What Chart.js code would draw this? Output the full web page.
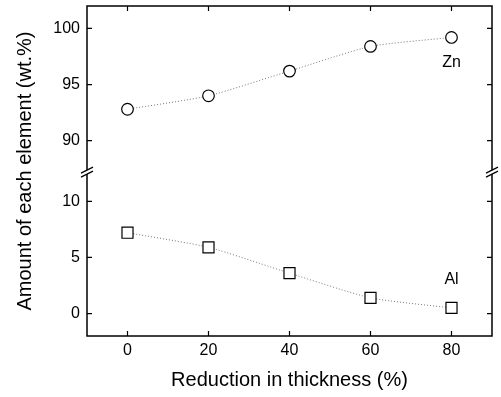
<!DOCTYPE html>
<html>
<head>
<meta charset="utf-8">
<script src="https://cdn.jsdelivr.net/npm/chart.js@4/dist/chart.umd.min.js"></script>
<style>
  html, body { margin: 0; padding: 0; background: #fff; }
  #wrap { width: 501px; height: 397px; }
</style>
</head>
<body>
<div id="wrap"><canvas id="chart"></canvas></div>
<script>
const reduction = [0, 20, 40, 60, 80];
const znValues = [92.8, 94.0, 96.2, 98.4, 99.2];
const alValues = [7.2, 5.9, 3.6, 1.4, 0.5];
const xTicks = [0, 20, 40, 60, 80];
const topTicks = [90, 95, 100];
const bottomTicks = [0, 5, 10];

const FONT = 'Liberation Sans, Arial, sans-serif';

const toPoints = (vals) => reduction.map((x, i) => ({ x: x, y: vals[i] }));

// frame, inward ticks, axis break marks, y title and element labels
const decor = {
    id: 'decor',
    afterDraw(chart) {
        const ctx = chart.ctx;
        const area = chart.chartArea;
        const xs = chart.scales.x;
        const yt = chart.scales.yTop;
        const yb = chart.scales.yBot;
        const len = 5;
        ctx.save();
        ctx.strokeStyle = '#000';
        ctx.lineWidth = 1.5;
        ctx.strokeRect(area.left, area.top, area.right - area.left, area.bottom - area.top);

        ctx.lineWidth = 1.2;
        ctx.beginPath();
        for (const v of xTicks) {
            const px = xs.getPixelForValue(v);
            ctx.moveTo(px, area.bottom); ctx.lineTo(px, area.bottom - len);
            ctx.moveTo(px, area.top); ctx.lineTo(px, area.top + len);
        }
        for (const v of topTicks) {
            const py = yt.getPixelForValue(v);
            ctx.moveTo(area.left, py); ctx.lineTo(area.left + len, py);
            ctx.moveTo(area.right, py); ctx.lineTo(area.right - len, py);
        }
        for (const v of bottomTicks) {
            const py = yb.getPixelForValue(v);
            ctx.moveTo(area.left, py); ctx.lineTo(area.left + len, py);
            ctx.moveTo(area.right, py); ctx.lineTo(area.right - len, py);
        }
        ctx.stroke();

        // axis break
        const by = yt.bottom;
        for (const bx of [area.left, area.right]) {
            ctx.fillStyle = '#fff';
            ctx.fillRect(bx - 3, by - 2, 6, 4);
            ctx.beginPath();
            ctx.moveTo(bx - 6, by + 1); ctx.lineTo(bx + 6, by - 5);
            ctx.moveTo(bx - 6, by + 5); ctx.lineTo(bx + 6, by - 1);
            ctx.stroke();
        }

        ctx.fillStyle = '#000';
        ctx.font = '16px ' + FONT;
        ctx.textAlign = 'center';
        ctx.textBaseline = 'middle';
        ctx.fillText('Zn', xs.getPixelForValue(80), yt.getPixelForValue(97.0));
        ctx.fillText('Al', xs.getPixelForValue(80), yb.getPixelForValue(3.0));

        ctx.font = '20px ' + FONT;
        ctx.translate(25, (area.top + area.bottom) / 2);
        ctx.rotate(-Math.PI / 2);
        ctx.fillText('Amount of each element (wt.%)', 0, 0);
        ctx.restore();
    }
};

const yCommon = {
    type: 'linear',
    position: 'left',
    stack: 'amount',
    grid: { display: false, drawTicks: false },
    border: { display: false },
    ticks: { color: '#000', font: { family: FONT, size: 16 }, padding: 7 },
    afterFit(scale) {
        scale.width = 87;
        scale.paddingTop = 0;
        scale.paddingBottom = 0;
    }
};

new Chart(document.getElementById('chart'), {
    type: 'line',
    data: {
        datasets: [
            {
                label: 'Zn',
                data: toPoints(znValues),
                yAxisID: 'yTop',
                borderColor: '#777',
                borderWidth: 1,
                borderDash: [1, 2],
                tension: 0.2,
                pointStyle: 'circle',
                pointRadius: 5.8,
                pointBackgroundColor: '#fff',
                pointBorderColor: '#000',
                pointBorderWidth: 1.2
            },
            {
                label: 'Al',
                data: toPoints(alValues),
                yAxisID: 'yBot',
                borderColor: '#777',
                borderWidth: 1,
                borderDash: [1, 2],
                tension: 0.2,
                pointStyle: 'rect',
                pointRadius: 7.8,
                pointBackgroundColor: '#fff',
                pointBorderColor: '#000',
                pointBorderWidth: 1.2
            }
        ]
    },
    options: {
        responsive: true,
        maintainAspectRatio: false,
        animation: false,
        layout: { autoPadding: false, padding: { top: 6, right: 9, left: 0, bottom: 0 } },
        plugins: { legend: { display: false }, tooltip: { enabled: false } },
        scales: {
            x: {
                type: 'linear',
                min: -10,
                max: 90,
                grid: { display: false, drawTicks: false },
                border: { display: false },
                afterBuildTicks(scale) { scale.ticks = xTicks.map(v => ({ value: v })); },
                ticks: { color: '#000', font: { family: FONT, size: 16 }, padding: 5 },
                title: {
                    display: true,
                    text: 'Reduction in thickness (%)',
                    color: '#000',
                    font: { family: FONT, size: 20 },
                    padding: 5
                },
                afterFit(scale) {
                    scale.height = 61;
                    scale.paddingLeft = 0;
                    scale.paddingRight = 0;
                }
            },
            yBot: Object.assign({}, yCommon, {
                min: -2,
                max: 12.6,
                stackWeight: 14.6,
                afterBuildTicks(scale) { scale.ticks = bottomTicks.map(v => ({ value: v })); }
            }),
            yTop: Object.assign({}, yCommon, {
                min: 87.2,
                max: 102,
                stackWeight: 14.8,
                afterBuildTicks(scale) { scale.ticks = topTicks.map(v => ({ value: v })); }
            })
        }
    },
    plugins: [decor]
});
</script>
</body>
</html>
